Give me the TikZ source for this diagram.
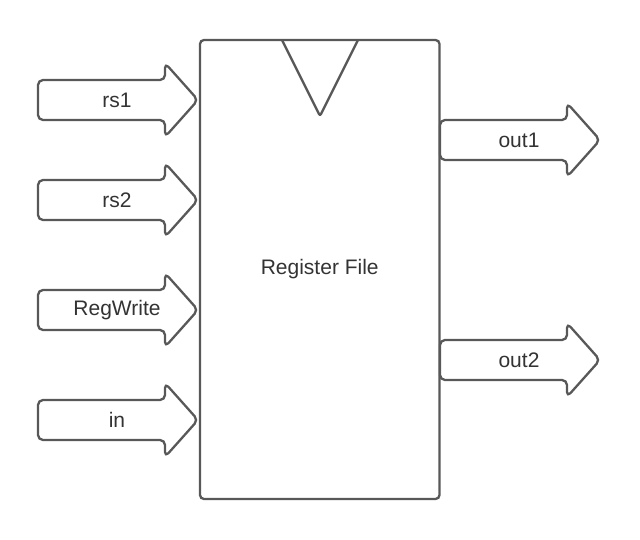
\documentclass[tikz,border=0pt]{standalone}
\usepackage{fontspec}
\setmainfont{Liberation Sans}
\usetikzlibrary{positioning}

\definecolor{linegray}{RGB}{88,88,88}
\definecolor{textgray}{RGB}{51,51,51}

% fat arrow: name, left x, middle y, text
\newcommand{\fatarrow}[4]{%
\draw[arrow line] (#2,#3-20) -- (#2+127,#3-20) -- (#2+127,#3-37) -- (#2+160,#3)
  -- (#2+127,#3+37) -- (#2+127,#3+20) -- (#2,#3+20) -- cycle;
\node[label node] (#1) at (#2+79,#3) {#4};}

\begin{document}
\begin{tikzpicture}[x=1pt,y=-1pt,line width=2.3pt,
arrow line/.style={draw=linegray,fill=white,rounded corners=5pt,line join=round},
label node/.style={draw=none,text=textgray,font=\fontsize{21}{24}\selectfont}]
\useasboundingbox (0,0) rectangle (640,540);
\node[draw=linegray,rounded corners=4pt,minimum width=239.5pt,minimum height=459pt,
  inner sep=0pt,text=textgray,font=\fontsize{21}{24}\selectfont] (rf) at (319.75,269.5) {Register File};
\draw[linegray,rounded corners=2pt,line join=round] (282,40) -- (320,116) -- (358,40);
\fatarrow{rs1}{38}{100}{rs1}
\fatarrow{rs2}{38}{200}{rs2}
\fatarrow{rw}{38}{310}{RegWrite}
\fatarrow{in}{38}{420}{in}
\fatarrow{out1}{440}{140}{out1}
\fatarrow{out2}{440}{360}{out2}
\end{tikzpicture}
\end{document}
